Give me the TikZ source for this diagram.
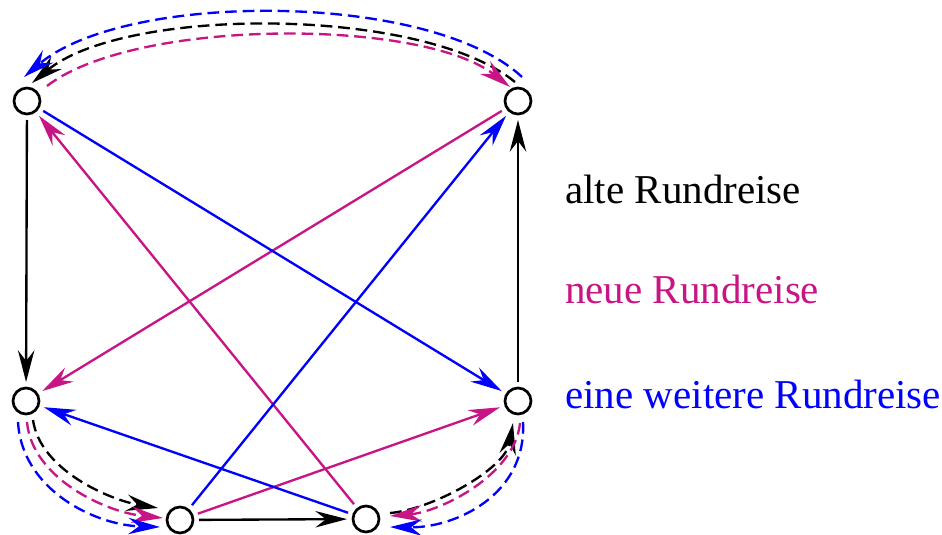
\documentclass[tikz,border=0pt]{standalone}
\usepackage{fontspec}
\setmainfont{Liberation Serif}
\usetikzlibrary{arrows.meta}
\definecolor{mag}{RGB}{199,21,133}
\begin{document}
\begin{tikzpicture}[x=0.03cm,y=-0.03cm,
 vtx/.style={circle,draw,line width=2.3pt,minimum size=0.78cm,inner sep=0pt,outer sep=0.18cm},
 con/.style={line width=2pt,-{Stealth[length=27pt,width=14pt,inset=9pt]}},
 dsh/.style={con,dash pattern=on 10pt off 5pt},
 lab/.style={anchor=base west,inner sep=0pt,font=\fontsize{35}{40}\selectfont}]
\useasboundingbox (0,0) rectangle (942,535);
\node[vtx] (A) at (27,101) {};
\node[vtx] (B) at (518,101) {};
\node[vtx] (C) at (26,401) {};
\node[vtx] (D) at (518,401) {};
\node[vtx] (E) at (180,520) {};
\node[vtx] (F) at (366,519) {};
% old tour (black)
\draw[con] (A) -- (C);
\draw[con] (E) -- (F);
\draw[con] (D) -- (B);
\draw[dsh] ([shift={(7,19)}]C.center) .. controls (40,470) and (110,500) .. ([shift={(-22,-12)}]E.center);
\draw[dsh] ([shift={(24,-6)}]F.center) .. controls (430,510) and (505,470) .. ([shift={(-5,22)}]D.center);
\draw[dsh] ([shift={(-3,-19)}]B.center) .. controls (422,6) and (125,6) .. ([shift={(5,-18)}]A.center);
% new tour (magenta)
\draw[con,mag] (B) -- (C);
\draw[con,mag] (E) -- (D);
\draw[con,mag] (F) -- (A);
\draw[dsh,mag] ([shift={(20,-15)}]A.center) .. controls (135,18) and (422,18) .. ([shift={(-8,-14)}]B.center);
\draw[dsh,mag] ([shift={(1,21)}]C.center) .. controls (32,478) and (105,512) .. ([shift={(-17,-2)}]E.center);
\draw[dsh,mag] ([shift={(2,22)}]D.center) .. controls (515,475) and (440,512) .. ([shift={(24,-3)}]F.center);
% another tour (blue)
\draw[con,blue] (A) -- (D);
\draw[con,blue] (F) -- (C);
\draw[con,blue] (E) -- (B);
\draw[dsh,blue] ([shift={(4,-24)}]B.center) .. controls (430,-9) and (125,-9) .. ([shift={(-3,-24)}]A.center);
\draw[dsh,blue] ([shift={(-8,21)}]C.center) .. controls (22,490) and (95,525) .. ([shift={(-20,7)}]E.center);
\draw[dsh,blue] ([shift={(5,21)}]D.center) .. controls (527,495) and (455,528) .. ([shift={(24,8)}]F.center);
% legend
\node[lab] (l1) at (565,203) {alte Rundreise};
\node[lab,text=mag] (l2) at (565,303) {neue Rundreise};
\node[lab,text=blue] (l3) at (565,408) {eine weitere Rundreise};
\end{tikzpicture}
\end{document}
